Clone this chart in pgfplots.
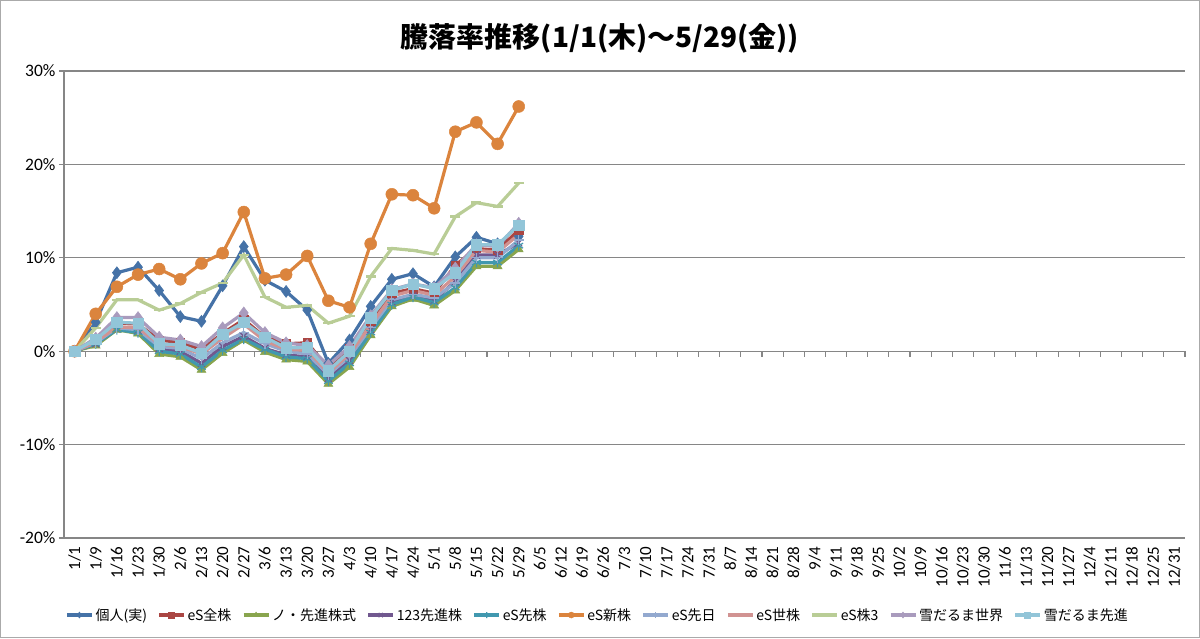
\documentclass[border=0pt]{standalone}
\usepackage{fontspec}
\setmainfont{Carlito}
\newfontfamily\cjk{Noto Sans CJK JP}
\usepackage{pgfplots}
\usepackage{pgfplotstable}
\pgfplotsset{compat=1.18}

\definecolor{cA}{HTML}{4572A7}
\definecolor{cB}{HTML}{AA4643}
\definecolor{cC}{HTML}{89A54E}
\definecolor{cD}{HTML}{71588F}
\definecolor{cE}{HTML}{4198AF}
\definecolor{cF}{HTML}{DB843D}
\definecolor{cG}{HTML}{93A9CF}
\definecolor{cH}{HTML}{D19392}
\definecolor{cI}{HTML}{B9CD96}
\definecolor{cJ}{HTML}{A99BBD}
\definecolor{cK}{HTML}{92C5D8}
\definecolor{axgray}{HTML}{868686}

\pgfplotstableread{
x kojin esall nosen s123 essen esshin esjitsu essekai es3 yukisekai yukisenshin
0  0    0    0    0    0    0    0    0    0    0    0
1  3.1  1.2  0.6  0.8  0.8  4.0  0.9  1.0  2.5  1.4  1.25
2  8.4  3.0  2.3  2.4  2.3  6.9  2.5  2.6  5.5  3.6  3.1
3  9.0  2.9  1.9  2.2  2.0  8.2  2.3  2.5  5.5  3.6  3.0
4  6.5  1.2 -0.3  0.3  0.0  8.8  0.5  0.8  4.4  1.5  0.8
5  3.7  0.9 -0.6  0.0 -0.3  7.7  0.3  0.5  5.1  1.2  0.65
6  3.2  0.2 -2.0 -1.3 -1.7  9.4 -0.8 -0.3  6.3  0.5 -0.2
7  7.0  1.9 -0.2  0.5  0.1 10.5  0.9  1.4  7.3  2.5  1.8
8 11.2  3.4  1.2  1.6  1.3 14.9  2.0  2.9 10.3  4.1  3.1
9  7.6  1.5 -0.1  0.3  0.2  7.8  0.8  1.1  5.8  2.0  1.5
10 6.4  0.8 -0.9 -0.4 -0.6  8.2  0.0  0.2  4.7  0.9  0.35
11 4.4  0.9 -1.1 -0.6 -0.8 10.2 -0.3  0.1  4.9  0.6  0.4
12 -1.3 -1.8 -3.5 -2.9 -3.2 5.4 -2.5 -2.3  3.0 -1.5 -2.1
13 1.2  0.3 -1.7 -1.0 -1.3  4.7 -0.6 -0.3  3.75 0.5  0.0
14 4.8  3.2  1.7  2.3  2.0 11.5  2.5  2.8  8.0  3.8  3.6
15 7.7  6.2  4.8  5.3  5.0 16.8  5.5  5.9 11.0  6.6  6.5
16 8.3  6.7  5.6  5.9  5.8 16.7  6.1  6.5 10.8  7.2  7.2
17 6.9  6.2  4.9  5.4  5.2 15.3  5.7  6.0 10.4  6.8  6.7
18 10.1 9.2  6.5  7.5  6.8 23.5  7.3  8.0 14.4  8.9  8.4
19 12.2 11.0 9.1 10.3  9.5 24.5 10.0 10.8 15.9 11.4 11.4
20 11.5 10.8 9.1 10.3  9.5 22.2 10.0 10.6 15.5 11.2 11.4
21 12.3 13.0 10.9 11.6 11.3 26.2 11.9 12.5 18.0 13.7 13.5
}\data

\begin{document}
\begin{tikzpicture}[x=1pt,y=1pt]
\useasboundingbox (0,0) rectangle (1200,638);
\draw[axgray!70, line width=1pt] (0.5,0.5) rectangle (1199.5,637.5);
\node[font=\cjk\bfseries\fontsize{28}{34}\selectfont] at (600,600) {騰落率推移(1/1(木)～5/29(金))};
\begin{axis}[
  at={(64pt,100pt)}, anchor=south west,
  width=1121pt, height=467pt, scale only axis,
  xmin=-0.5, xmax=52.5, ymin=-20, ymax=30,
  axis y line*=left, axis x line*=bottom,
  x axis line style={draw=none},
  y axis line style={draw=axgray, line width=1.3pt},
  xtick={0,...,52},
  major x tick style={draw=none},
  xticklabels={1/1,1/9,1/16,1/23,1/30,2/6,2/13,2/20,2/27,3/6,3/13,3/20,3/27,4/3,4/10,4/17,4/24,5/1,5/8,5/15,5/22,5/29,6/5,6/12,6/19,6/26,7/3,7/10,7/17,7/24,7/31,8/7,8/14,8/21,8/28,9/4,9/11,9/18,9/25,10/2,10/9,10/16,10/23,10/30,11/6,11/13,11/20,11/27,12/4,12/11,12/18,12/25,12/31},
  xticklabel style={rotate=90, anchor=east, font=\fontsize{17}{17}\selectfont},
  ytick={-20,-10,0,10,20,30},
  yticklabels={-20\%,-10\%,0\%,10\%,20\%,30\%},
  yticklabel style={font=\fontsize{17.5}{17.5}\selectfont},
  major y tick style={draw=axgray, line width=1.3pt},
  tick align=outside, major tick length=5pt,
  ymajorgrids, grid style={draw=axgray, line width=1.3pt},
  clip=false,
  legend columns=11,
  legend style={at={(0.476,-0.165)}, anchor=center, draw=none, fill=none,
    font=\cjk\fontsize{14}{14}\selectfont,
    /tikz/every even column/.append style={column sep=8.5pt},
    inner sep=0pt},
  legend image code/.code={\draw[mark repeat=2,mark phase=2,mark size=3pt] plot coordinates {(0pt,0pt) (12.5pt,0pt) (25pt,0pt)};},
  every axis plot/.append style={line width=3.2pt},
]
\draw[axgray, line width=1.3pt] (axis cs:-0.5,0) -- (axis cs:52.5,0);
\pgfplotsinvokeforeach{-0.5,0.5,...,52.5}{\draw[axgray, line width=1.1pt] (axis cs:#1,0) -- ++(0pt,-6pt);}
\addplot[cA, mark=diamond*, mark size=6pt, mark options={fill=cA, line width=0.5pt}] table[x=x,y=kojin]{\data};
\addlegendentry{個人(実)}
\addplot[cB, mark=square*, mark size=4.2pt, mark options={fill=cB, line width=0.5pt}] table[x=x,y=esall]{\data};
\addlegendentry{eS全株}
\addplot[cC, mark=triangle*, mark size=5.2pt, mark options={fill=cC, line width=0.5pt}] table[x=x,y=nosen]{\data};
\addlegendentry{ノ・先進株式}
\addplot[cD, mark=x, mark size=5pt, mark options={line width=1.2pt}] table[x=x,y=s123]{\data};
\addlegendentry{123先進株}
\addplot[cE, mark=asterisk, mark size=5pt, mark options={line width=1.2pt}] table[x=x,y=essen]{\data};
\addlegendentry{eS先株}
\addplot[cF, mark=*, mark size=6pt, mark options={fill=cF, line width=0.5pt}] table[x=x,y=esshin]{\data};
\addlegendentry{eS新株}
\addplot[cG, mark=+, mark size=5pt, mark options={line width=1.2pt}] table[x=x,y=esjitsu]{\data};
\addlegendentry{eS先日}
\addplot[cH, mark=none] table[x=x,y=essekai]{\data};
\addlegendentry{eS世株}
\addplot[cI, mark=-, mark size=5pt, mark options={line width=2.5pt}] table[x=x,y=es3]{\data};
\addlegendentry{eS株3}
\addplot[cJ, mark=diamond*, mark size=6pt, mark options={fill=cJ, line width=0.5pt}] table[x=x,y=yukisekai]{\data};
\addlegendentry{雪だるま世界}
\addplot[cK, mark=square*, mark size=5.2pt, mark options={fill=cK, line width=0.5pt}] table[x=x,y=yukisenshin]{\data};
\addlegendentry{雪だるま先進}
\end{axis}
\end{tikzpicture}
\end{document}
